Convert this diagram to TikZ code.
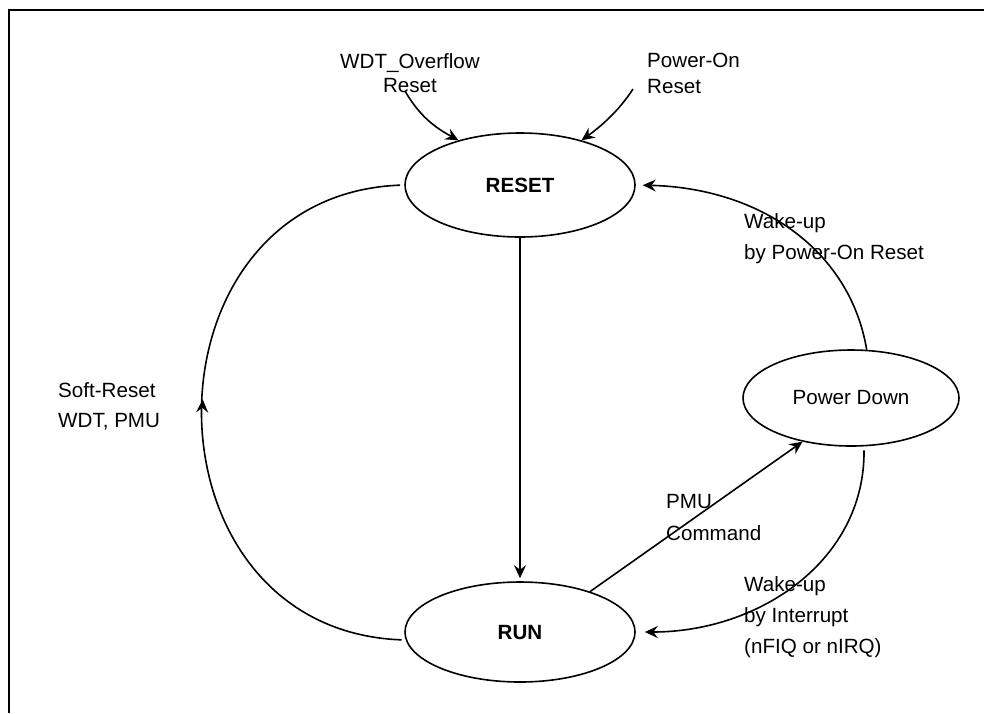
\documentclass[tikz,border=0pt]{standalone}
\usepackage{fontspec}
\setmainfont{Liberation Sans}
\usetikzlibrary{shapes.geometric,arrows.meta,decorations.markings}
\begin{document}
\begin{tikzpicture}[x=1pt,y=-1pt,
  state/.style={draw, ellipse, line width=1.6pt, inner sep=0pt,
    minimum width=230pt, minimum height=104pt,
    font=\fontsize{20.6}{25}\selectfont},
  lbl/.style={inner sep=0pt, align=left, font=\fontsize{20.6}{31}\selectfont},
  conn/.style={line width=1.6pt, -{Stealth[length=13pt,width=12pt,inset=4.5pt]}},
  midarrow/.style={line width=1.6pt, postaction={decorate},
    decoration={markings, mark=at position 0.52 with {\arrow{Stealth[length=13pt,width=12pt,inset=4.5pt]}}}},
]
\useasboundingbox (0,0) rectangle (984,713);
\draw[line width=2.5pt] (9,713) -- (9,10) -- (984,10);

% states
\node[state, font=\fontsize{20.6}{25}\selectfont\bfseries] (reset) at (520,185) {RESET};
\node[state, font=\fontsize{20.6}{25}\selectfont\bfseries, minimum height=100pt] (run) at (520,632) {RUN};
\node[state, minimum width=216pt, minimum height=96pt] (pd) at (851,398) {Power Down};

% labels (anchor = baseline of the last line)
\node[lbl, align=center, font=\fontsize{20.6}{24}\selectfont, anchor=base] (wdtlbl) at (410,92) {WDT\_Overflow\\Reset};
\node[lbl, font=\fontsize{20.6}{26}\selectfont, anchor=base west] (porlbl) at (647,93) {Power-On\\Reset};
\node[lbl, anchor=base west] (wakepor) at (744,259) {Wake-up\\by Power-On Reset};
\node[lbl, font=\fontsize{20.6}{30}\selectfont, anchor=base west] (softlbl) at (58,427) {Soft-Reset\\WDT, PMU};
\node[lbl, font=\fontsize{20.6}{32}\selectfont, anchor=base west] (pmulbl) at (666,540) {PMU\\Command};
\node[lbl, anchor=base west] (wakeint) at (744,653) {Wake-up\\by Interrupt\\(nFIQ or nIRQ)};

% free ends
\coordinate (wdtstart) at (405,91);
\coordinate (porstart) at (633,89);

% connectors
\draw[conn] (wdtstart) .. controls (420,117) and (436,128) .. (reset.144);
\draw[conn] (porstart) .. controls (618,112) and (600,127) .. (reset.36);
\draw[conn, shorten >=3pt] (reset.south) -- (run.north);
\draw[midarrow, shorten <=4pt, shorten >=4pt] (run.184) .. controls (135,630) and (135,195) .. (reset.180);
\draw[conn, shorten >=7pt] (pd.72) .. controls (850,250) and (760,188) .. (reset.east);
\draw[conn] (run.30) -- (pd.222);
\draw[conn, shorten >=9pt, shorten <=4pt] (pd.285) .. controls (865,560) and (760,632) .. (run.east);
\end{tikzpicture}
\end{document}
